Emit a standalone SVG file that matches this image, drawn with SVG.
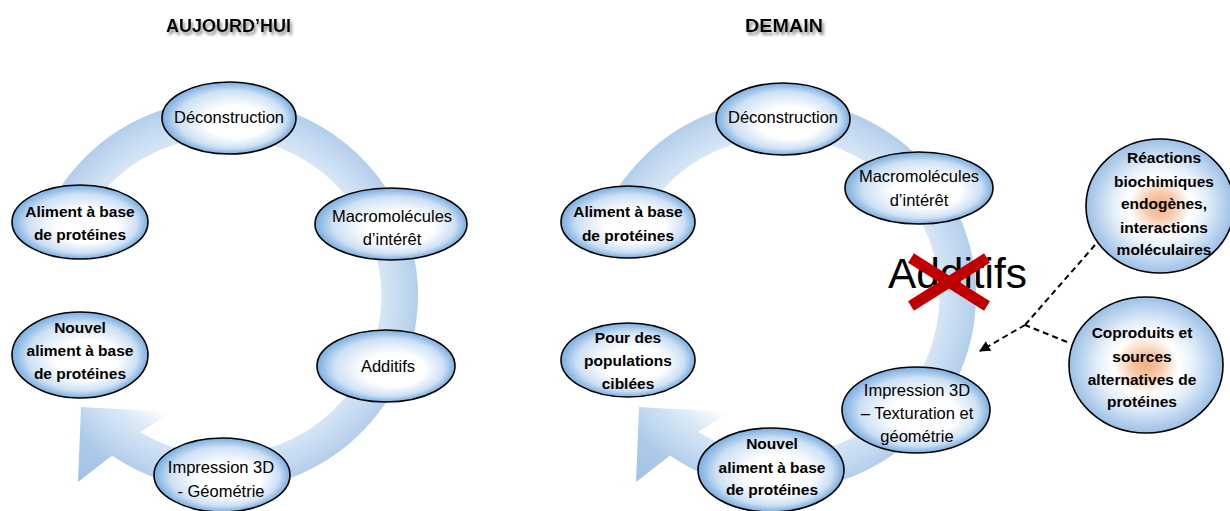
<svg xmlns="http://www.w3.org/2000/svg" width="1230" height="511" viewBox="0 0 1230 511">
<defs>
<radialGradient id="gring" gradientUnits="userSpaceOnUse" cx="223" cy="295" r="250">
<stop offset="0" stop-color="#ffffff"/>
<stop offset="0.52" stop-color="#ffffff"/>
<stop offset="0.62" stop-color="#d9e8f6"/>
<stop offset="0.72" stop-color="#c3d9f0"/>
<stop offset="0.8" stop-color="#adcaea"/>
<stop offset="1" stop-color="#9cbfe5"/>
</radialGradient>
<radialGradient id="gb" cx="0.5" cy="0.5" r="0.5" fx="0.6" fy="0.6">
<stop offset="0" stop-color="#ffffff"/>
<stop offset="0.45" stop-color="#ffffff"/>
<stop offset="0.8" stop-color="#cde0f4"/>
<stop offset="1" stop-color="#78ade0"/>
</radialGradient>
<radialGradient id="go" cx="0.5" cy="0.5" r="0.5">
<stop offset="0" stop-color="#f4ad7e"/>
<stop offset="0.2" stop-color="#f8cbac"/>
<stop offset="0.42" stop-color="#ffffff"/>
<stop offset="0.62" stop-color="#e6f0fa"/>
<stop offset="1" stop-color="#9bc0e6"/>
</radialGradient>
<filter id="sh" x="-10%" y="-40%" width="130%" height="200%">
<feDropShadow dx="2" dy="3" stdDeviation="1.6" flood-color="#7f7f7f" flood-opacity="0.9"/>
</filter>
<marker id="arr" viewBox="0 0 10 10" refX="9" refY="5" markerWidth="5.5" markerHeight="5.5" orient="auto" markerUnits="strokeWidth">
<path d="M0,0 L10,5 L0,10 Z" fill="#000"/>
</marker>
<path id="ring" d="M46.3,212.6 A195,195 0 1 1 112.1,455.4 L78,482 L81,407 L172,412 L140,432 A159,159 0 1 0 78.9,227.8 Z"/>
</defs>
<style>
.n{stroke:#000;stroke-width:1.6;fill:url(#gb)}
.o{stroke:#000;stroke-width:1.6;fill:url(#go)}
text{font-family:"Liberation Sans",Arial,sans-serif;fill:#000;text-anchor:middle}
.r{font-size:16.5px}
.b{font-size:15.5px;font-weight:bold}
.t{font-size:18px;font-weight:bold;filter:url(#sh)}
.d{fill:none;stroke:#000;stroke-width:2;stroke-dasharray:6,4}
</style>
<rect width="1230" height="511" fill="#fff"/>
<g id="titles">
<text class="t" x="228.5" y="32">AUJOURD’HUI</text>
<text class="t" x="784" y="32" textLength="78" lengthAdjust="spacingAndGlyphs">DEMAIN</text>
</g>
<g id="rings">
<use href="#ring" fill="url(#gring)"/>
<g transform="translate(558,0)"><use href="#ring" fill="url(#gring)"/></g>
</g>
<g id="connectors">
<path class="d" d="M1095,245 L1025,325"/>
<path class="d" d="M1067,342 L1025,325"/>
<path class="d" d="M1025,325 L980,351" marker-end="url(#arr)"/>
</g>
<g id="l-deconstruction"><ellipse class="n" cx="229" cy="118" rx="67" ry="36"/><text class="r" x="229" y="123">Déconstruction</text></g>
<g id="l-macro"><ellipse class="n" cx="391" cy="224" rx="76" ry="36"/><text class="r" x="392" y="222">Macromolécules</text><text class="r" x="392" y="245">d’intérêt</text></g>
<g id="l-aliment"><ellipse class="n" cx="80" cy="222" rx="68" ry="37"/><text class="b" x="80" y="217">Aliment à base</text><text class="b" x="80" y="240">de protéines</text></g>
<g id="l-nouvel"><ellipse class="n" cx="80" cy="355" rx="68" ry="43"/><text class="b" x="80" y="333">Nouvel</text><text class="b" x="80" y="356">aliment à base</text><text class="b" x="80" y="379">de protéines</text></g>
<g id="l-additifs"><ellipse class="n" cx="386" cy="366" rx="69" ry="36"/><text class="r" x="388" y="372">Additifs</text></g>
<g id="l-impression"><ellipse class="n" cx="222" cy="475" rx="68" ry="37"/><text class="r" x="221" y="473">Impression 3D</text><text class="r" x="221" y="497">- Géométrie</text></g>
<g id="r-deconstruction"><ellipse class="n" cx="783" cy="119" rx="67" ry="36"/><text class="r" x="783" y="123">Déconstruction</text></g>
<g id="r-macro"><ellipse class="n" cx="919" cy="188" rx="74" ry="36"/><text class="r" x="919" y="182">Macromolécules</text><text class="r" x="919" y="206">d’intérêt</text></g>
<g id="r-aliment"><ellipse class="n" cx="628" cy="222" rx="67" ry="36"/><text class="b" x="628" y="217">Aliment à base</text><text class="b" x="628" y="241">de protéines</text></g>
<g id="r-pour"><ellipse class="n" cx="628" cy="360" rx="67" ry="37"/><text class="b" x="628" y="343">Pour des</text><text class="b" x="628" y="366">populations</text><text class="b" x="628" y="389">ciblées</text></g>
<g id="r-impression"><ellipse class="n" cx="916" cy="410" rx="74" ry="43"/><text class="r" x="917" y="396">Impression 3D</text><text class="r" x="917" y="419">– Texturation et</text><text class="r" x="917" y="442">géométrie</text></g>
<g id="r-nouvel"><ellipse class="n" cx="771" cy="470" rx="73" ry="42"/><text class="b" x="772" y="449">Nouvel</text><text class="b" x="772" y="473">aliment à base</text><text class="b" x="772" y="495">de protéines</text></g>
<g id="r-reactions"><ellipse class="o" cx="1160" cy="206" rx="74" ry="67"/><text class="b" x="1164" y="163">Réactions</text><text class="b" x="1164" y="187">biochimiques</text><text class="b" x="1164" y="209">endogènes,</text><text class="b" x="1164" y="233">interactions</text><text class="b" x="1164" y="255">moléculaires</text></g>
<g id="r-coproduits"><ellipse class="o" cx="1146" cy="365" rx="77" ry="68"/><text class="b" x="1142" y="338">Coproduits et</text><text class="b" x="1142" y="362">sources</text><text class="b" x="1142" y="385">alternatives de</text><text class="b" x="1142" y="407">protéines</text></g>
<g id="r-additifs-crossed">
<text x="957.5" y="288" font-size="42" textLength="139" lengthAdjust="spacingAndGlyphs">Additifs</text>
<path d="M911,258 L987,306 M987,258 L911,306" stroke="#c00000" stroke-width="11" fill="none"/>
</g>
</svg>
